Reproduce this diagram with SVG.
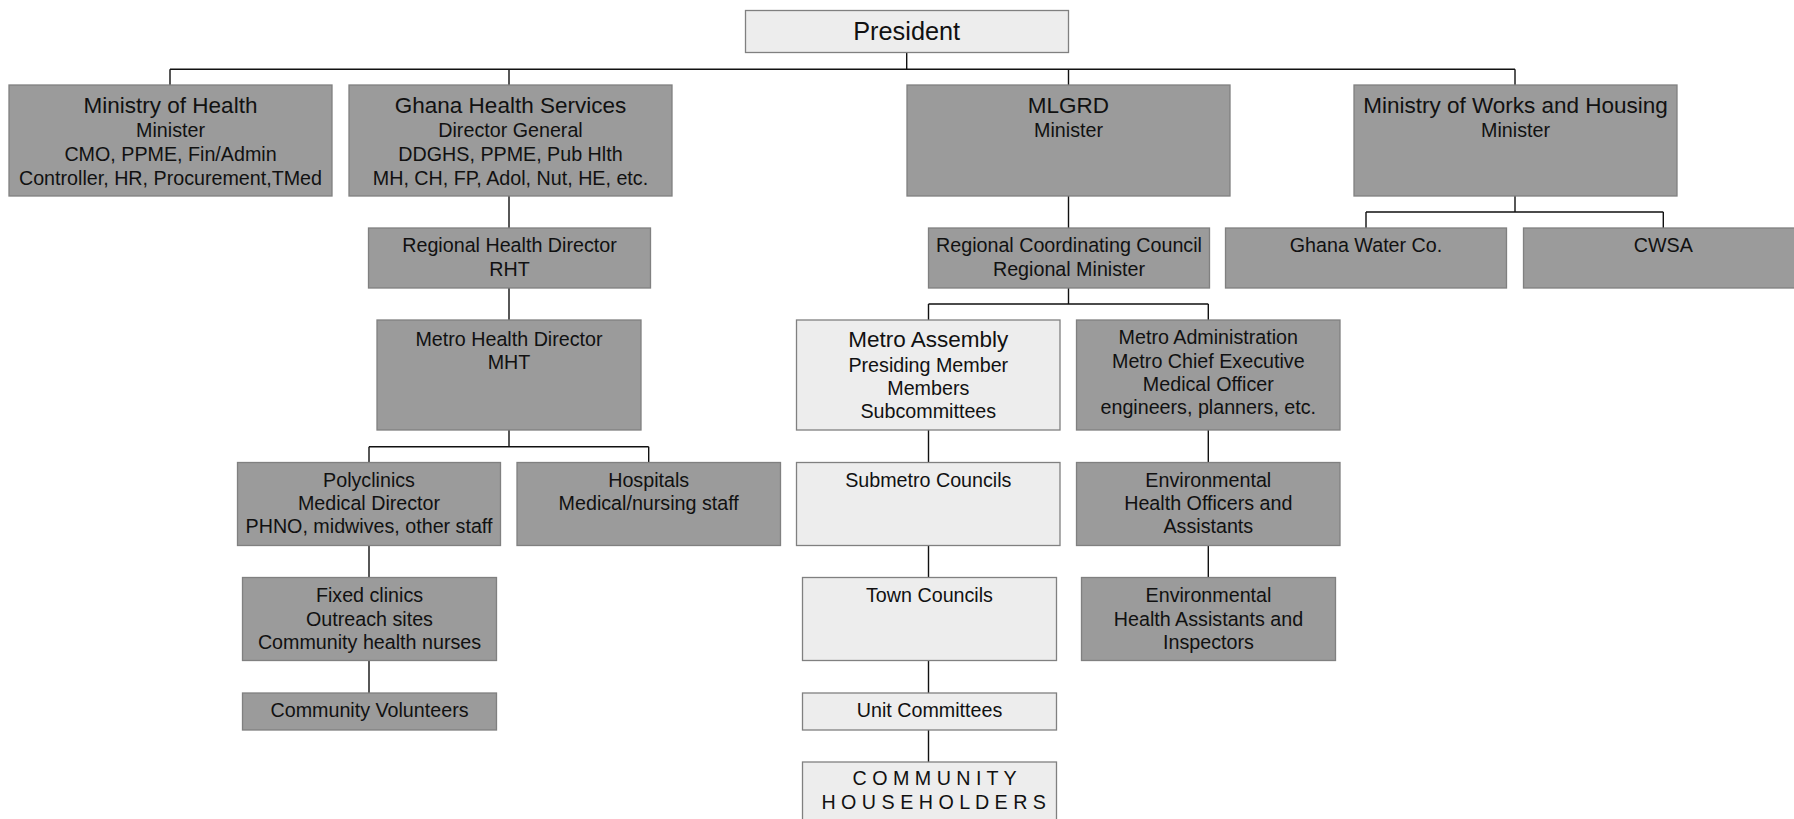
<svg xmlns="http://www.w3.org/2000/svg" width="1794" height="819" viewBox="0 0 1794 819">
<style>
.d{fill:#9b9b9b;stroke:#808080;stroke-width:1.3}
.l{fill:#ededed;stroke:#808080;stroke-width:1.3}
text{font-family:"Liberation Sans",Arial,sans-serif;fill:#111;text-anchor:middle;font-size:19.7px}
.t{font-size:22.5px}
.p{font-size:25.3px}
.c{fill:none;stroke:#111;stroke-width:1.4}
</style>
<rect width="1794" height="819" fill="#fff"/>
<g id="connectors" class="c">
<path d="M906.7 52.7V69.3M170 69.3H1515M170 69.3V85M509 69.3V85M1068.5 69.3V85M1515 69.3V85"/>
<path d="M509 196V228M509 288V320M509 430V446.7M369 446.7H648.7M369 446.7V462.5M648.7 446.7V462.5"/>
<path d="M369 545.5V577.5M369 660.5V693"/>
<path d="M1068.5 196V228M1068.5 288V304M928.5 304H1208.3M928.5 304V320M1208.3 304V320"/>
<path d="M928.5 430V462.5M928.5 545.5V577.5M928.5 660.5V693M928.5 730V762"/>
<path d="M1208.3 430V462.5M1208.3 545.5V577.5"/>
<path d="M1515 196V212M1366 212H1663.3M1366 212V228M1663.3 212V228"/>
</g>
<g id="president"><rect class="l" x="745.5" y="10.5" width="323" height="42"/><text class="p" x="906.7" y="40">President</text></g>
<g id="moh"><rect class="d" x="9" y="85" width="323" height="111"/><text class="t" x="170.5" y="113.3">Ministry of Health</text><text x="170.5" y="137.3">Minister</text><text x="170.5" y="161.3">CMO, PPME, Fin/Admin</text><text x="170.5" y="185">Controller, HR, Procurement,TMed</text></g>
<g id="ghs"><rect class="d" x="349" y="85" width="323" height="111"/><text class="t" x="510.5" y="113.3">Ghana Health Services</text><text x="510.5" y="137.3">Director General</text><text x="510.5" y="161.3">DDGHS, PPME, Pub Hlth</text><text x="510.5" y="185">MH, CH, FP, Adol, Nut, HE, etc.</text></g>
<g id="mlgrd"><rect class="d" x="907" y="85" width="323" height="111"/><text class="t" x="1068.5" y="113.3">MLGRD</text><text x="1068.5" y="136.7">Minister</text></g>
<g id="mwh"><rect class="d" x="1354" y="85" width="323" height="111"/><text class="t" x="1515.5" y="113.3">Ministry of Works and Housing</text><text x="1515.5" y="136.7">Minister</text></g>
<g id="rhd"><rect class="d" x="368.5" y="228" width="282" height="60"/><text x="509.5" y="252.3">Regional Health Director</text><text x="509.5" y="276">RHT</text></g>
<g id="rcc"><rect class="d" x="928.5" y="228" width="281" height="60"/><text x="1069" y="252.3">Regional Coordinating Council</text><text x="1069" y="276">Regional Minister</text></g>
<g id="gwc"><rect class="d" x="1225.5" y="228" width="281" height="60"/><text x="1366" y="252">Ghana Water Co.</text></g>
<g id="cwsa"><rect class="d" x="1523.5" y="228" width="281" height="60"/><text x="1663.3" y="252">CWSA</text></g>
<g id="mhd"><rect class="d" x="377" y="320" width="264" height="110"/><text x="509" y="345.7">Metro Health Director</text><text x="509" y="368.7">MHT</text></g>
<g id="ma"><rect class="l" x="796.5" y="320" width="263.5" height="110"/><text class="t" x="928.3" y="346.7">Metro Assembly</text><text x="928.3" y="371.7">Presiding Member</text><text x="928.3" y="395">Members</text><text x="928.3" y="417.7">Subcommittees</text></g>
<g id="madmin"><rect class="d" x="1076.5" y="320" width="263.5" height="110"/><text x="1208.3" y="344.3">Metro Administration</text><text x="1208.3" y="367.7">Metro Chief Executive</text><text x="1208.3" y="391">Medical Officer</text><text x="1208.3" y="414.3">engineers, planners, etc.</text></g>
<g id="poly"><rect class="d" x="237.5" y="462.5" width="263" height="83"/><text x="369" y="486.7">Polyclinics</text><text x="369" y="510">Medical Director</text><text x="369" y="533.3">PHNO, midwives, other staff</text></g>
<g id="hosp"><rect class="d" x="517" y="462.5" width="263.5" height="83"/><text x="648.7" y="486.7">Hospitals</text><text x="648.7" y="510">Medical/nursing staff</text></g>
<g id="submetro"><rect class="l" x="796.5" y="462.5" width="263.5" height="83"/><text x="928.3" y="486.7">Submetro Councils</text></g>
<g id="envho"><rect class="d" x="1076.5" y="462.5" width="263.5" height="83"/><text x="1208.3" y="486.7">Environmental</text><text x="1208.3" y="510">Health Officers and</text><text x="1208.3" y="533.3">Assistants</text></g>
<g id="fixed"><rect class="d" x="242.5" y="577.5" width="254" height="83"/><text x="369.5" y="602.3">Fixed clinics</text><text x="369.5" y="625.7">Outreach sites</text><text x="369.5" y="649">Community health nurses</text></g>
<g id="town"><rect class="l" x="802.5" y="577.5" width="254" height="83"/><text x="929.5" y="601.7">Town Councils</text></g>
<g id="envha"><rect class="d" x="1081.5" y="577.5" width="254" height="83"/><text x="1208.5" y="601.7">Environmental</text><text x="1208.5" y="625.7">Health Assistants and</text><text x="1208.5" y="649">Inspectors</text></g>
<g id="cv"><rect class="d" x="242.5" y="693" width="254" height="37"/><text x="369.5" y="716.7">Community Volunteers</text></g>
<g id="unit"><rect class="l" x="802.5" y="693" width="254" height="37"/><text x="929.5" y="717.3">Unit Committees</text></g>
<g id="community"><rect class="l" x="802.5" y="762" width="254" height="70"/><text x="934.5" y="785">C O M M U N I T Y</text><text x="933.7" y="809.3">H O U S E H O L D E R S</text></g>
</svg>
